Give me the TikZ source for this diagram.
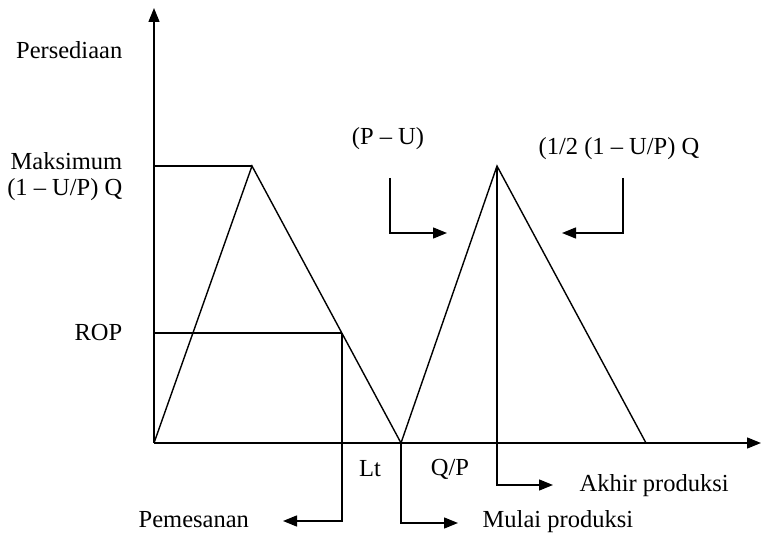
\documentclass[tikz,border=0pt]{standalone}
\usepackage{fontspec}
\setmainfont{Liberation Serif}
\usetikzlibrary{arrows.meta}
\begin{document}
\begin{tikzpicture}[x=1pt,y=-1pt,line width=1.4pt,
  lbl/.style={font=\fontsize{24.5}{28}\selectfont,inner sep=0pt},
  arr/.style={-{Triangle[length=14pt,width=11pt]}}]
\useasboundingbox (0,0) rectangle (761,534);
% points
\coordinate (O) at (154,443);
\coordinate (ytop) at (154,8);
\coordinate (xend) at (761,443);
\coordinate (p1) at (252,166);
\coordinate (v1) at (401,443);
\coordinate (p2) at (497,166);
\coordinate (e2) at (646,443);
\coordinate (maxL) at (154,166);
\coordinate (ropL) at (154,333);
\coordinate (rop) at (342,333);
\coordinate (pemEnd) at (283,521);
\coordinate (mulEnd) at (458,523);
\coordinate (akhEnd) at (553,485);
\coordinate (puA) at (390,178);
\coordinate (puB) at (447,233);
\coordinate (hfA) at (623,178);
\coordinate (hfB) at (562,233);
% axes
\draw[arr] (O) -- (ytop);
\draw[arr] (O) -- (xend);
% inventory curve
\draw (O) -- (p1) -- (v1) -- (p2) -- (e2);
\draw (maxL) -- (p1);
\draw (ropL) -- (rop);
% callout arrows
\draw[arr] (rop) |- (pemEnd);
\draw[arr] (v1) |- (mulEnd);
\draw[arr] (p2) |- (akhEnd);
\draw[arr] (puA) |- (puB);
\draw[arr] (hfA) |- (hfB);
% labels
\node[lbl,anchor=base east] (pers) at (123,59) {Persediaan};
\node[lbl,anchor=base east] (maks) at (123,170) {Maksimum};
\node[lbl,anchor=base east] (maksq) at (123,196) {(1 -- U/P) Q};
\node[lbl,anchor=base east] (ropt) at (123,341) {ROP};
\node[lbl,anchor=base] (pu) at (388,145) {(P -- U)};
\node[lbl,anchor=base] (hf) at (619,155) {(1/2 (1 -- U/P) Q};
\node[lbl,anchor=base] (lt) at (370,477) {Lt};
\node[lbl,anchor=base] (qp) at (450,476) {Q/P};
\node[lbl,anchor=base west] (akh) at (579,492) {Akhir produksi};
\node[lbl,anchor=base west] (mul) at (482,528) {Mulai produksi};
\node[lbl,anchor=base west] (pem) at (138,528) {Pemesanan};
\end{tikzpicture}
\end{document}
